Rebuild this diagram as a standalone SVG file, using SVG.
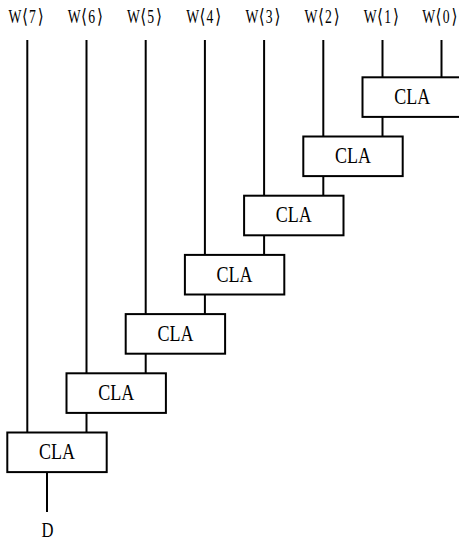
<svg xmlns="http://www.w3.org/2000/svg" width="459" height="541" viewBox="0 0 459 541">
  <style>
    .box { fill: #ffffff; stroke: #000000; stroke-width: 2; }
    .wire { fill: none; stroke: #000000; stroke-width: 2; }
    .lbl { font-family: "Liberation Serif", "Noto Sans CJK SC", serif; fill: #000000; text-anchor: middle; }
    .cla { font-size: 23px; }
    .win { font-family: "Liberation Serif", "Noto Sans CJK SC", serif; font-size: 18px; fill: #000000; }
    .br { font-family: "DejaVu Sans", "Noto Sans CJK SC", sans-serif; font-size: 20px; }
  </style>
  <rect width="459" height="541" fill="#ffffff"/>

  <!-- wires: inputs, carry chain and output -->
  <g id="connectors">
    <!-- W inputs -->
    <line class="wire" x1="27.3" y1="40" x2="27.3" y2="432.5"/>
    <line class="wire" x1="86.5" y1="40" x2="86.5" y2="373.3"/>
    <line class="wire" x1="145.7" y1="40" x2="145.7" y2="314.1"/>
    <line class="wire" x1="204.9" y1="40" x2="204.9" y2="254.9"/>
    <line class="wire" x1="264.1" y1="40" x2="264.1" y2="195.7"/>
    <line class="wire" x1="323.3" y1="40" x2="323.3" y2="136.5"/>
    <line class="wire" x1="382.5" y1="40" x2="382.5" y2="77.3"/>
    <line class="wire" x1="441.5" y1="40" x2="441.5" y2="77.3"/>
    <!-- chain between stages -->
    <line class="wire" x1="382.5" y1="116.9" x2="382.5" y2="136.5"/>
    <line class="wire" x1="323.3" y1="176.1" x2="323.3" y2="195.7"/>
    <line class="wire" x1="264.1" y1="235.3" x2="264.1" y2="254.9"/>
    <line class="wire" x1="204.9" y1="294.5" x2="204.9" y2="314.1"/>
    <line class="wire" x1="145.7" y1="353.7" x2="145.7" y2="373.3"/>
    <line class="wire" x1="86.5" y1="412.9" x2="86.5" y2="432.5"/>
    <!-- output -->
    <line class="wire" x1="47" y1="472.1" x2="47" y2="512"/>
  </g>

  <g id="cla0"><rect class="box" x="7.3" y="432.5" width="99.4" height="39.6"/><text class="lbl cla" x="57" y="459.2" textLength="36" lengthAdjust="spacingAndGlyphs">CLA</text></g>
  <g id="cla1"><rect class="box" x="66.5" y="373.3" width="99.4" height="39.6"/><text class="lbl cla" x="116.2" y="400" textLength="36" lengthAdjust="spacingAndGlyphs">CLA</text></g>
  <g id="cla2"><rect class="box" x="125.7" y="314.1" width="99.4" height="39.6"/><text class="lbl cla" x="175.4" y="340.8" textLength="36" lengthAdjust="spacingAndGlyphs">CLA</text></g>
  <g id="cla3"><rect class="box" x="184.9" y="254.9" width="99.4" height="39.6"/><text class="lbl cla" x="234.6" y="281.6" textLength="36" lengthAdjust="spacingAndGlyphs">CLA</text></g>
  <g id="cla4"><rect class="box" x="244.1" y="195.7" width="99.4" height="39.6"/><text class="lbl cla" x="293.8" y="222.4" textLength="36" lengthAdjust="spacingAndGlyphs">CLA</text></g>
  <g id="cla5"><rect class="box" x="303.3" y="136.5" width="99.4" height="39.6"/><text class="lbl cla" x="353" y="163.2" textLength="36" lengthAdjust="spacingAndGlyphs">CLA</text></g>
  <g id="cla6"><rect class="box" x="362.5" y="77.3" width="99.4" height="39.6"/><text class="lbl cla" x="412.2" y="104" textLength="36" lengthAdjust="spacingAndGlyphs">CLA</text></g>

  <!-- input labels, narrowed horizontally -->
  <g id="inputs">
    <text class="win" transform="translate(8.6,22.5) scale(0.76,1)">W<tspan class="br" dx="0.5">⟨</tspan><tspan dx="1.5">7</tspan><tspan class="br" dx="2.5">⟩</tspan></text>
    <text class="win" transform="translate(67.8,22.5) scale(0.76,1)">W<tspan class="br" dx="0.5">⟨</tspan><tspan dx="1.5">6</tspan><tspan class="br" dx="2.5">⟩</tspan></text>
    <text class="win" transform="translate(127,22.5) scale(0.76,1)">W<tspan class="br" dx="0.5">⟨</tspan><tspan dx="1.5">5</tspan><tspan class="br" dx="2.5">⟩</tspan></text>
    <text class="win" transform="translate(186.2,22.5) scale(0.76,1)">W<tspan class="br" dx="0.5">⟨</tspan><tspan dx="1.5">4</tspan><tspan class="br" dx="2.5">⟩</tspan></text>
    <text class="win" transform="translate(245.4,22.5) scale(0.76,1)">W<tspan class="br" dx="0.5">⟨</tspan><tspan dx="1.5">3</tspan><tspan class="br" dx="2.5">⟩</tspan></text>
    <text class="win" transform="translate(304.6,22.5) scale(0.76,1)">W<tspan class="br" dx="0.5">⟨</tspan><tspan dx="1.5">2</tspan><tspan class="br" dx="2.5">⟩</tspan></text>
    <text class="win" transform="translate(363.8,22.5) scale(0.76,1)">W<tspan class="br" dx="0.5">⟨</tspan><tspan dx="1.5">1</tspan><tspan class="br" dx="2.5">⟩</tspan></text>
    <text class="win" transform="translate(422.3,22.5) scale(0.76,1)">W<tspan class="br" dx="0.5">⟨</tspan><tspan dx="1.5">0</tspan><tspan class="br" dx="2.5">⟩</tspan></text>
  </g>

  <g id="output"><text class="lbl" x="47.5" y="537" font-size="22" textLength="12" lengthAdjust="spacingAndGlyphs">D</text></g>
</svg>
